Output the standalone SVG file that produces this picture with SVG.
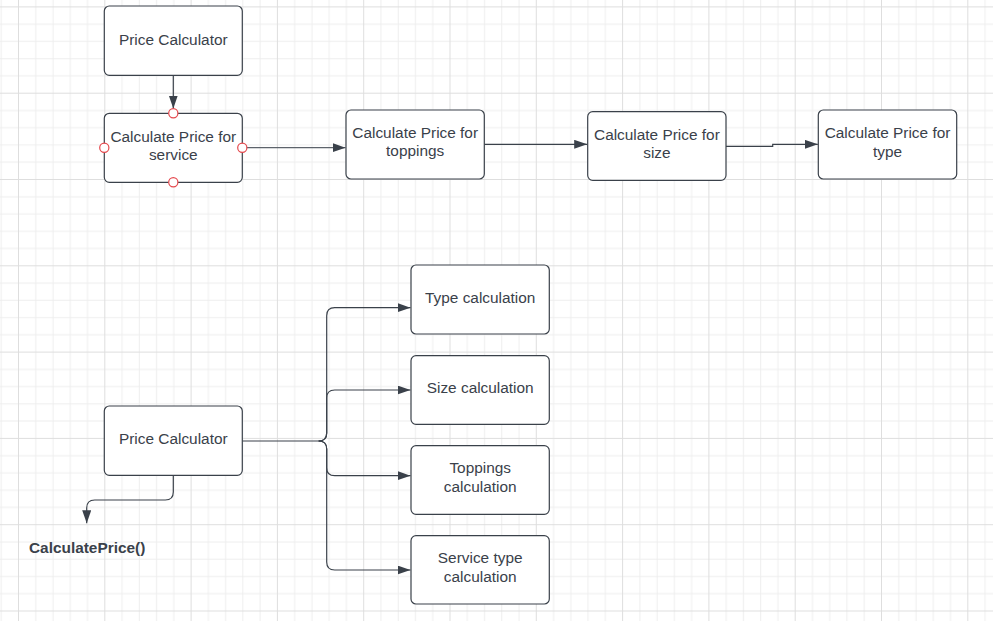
<svg xmlns="http://www.w3.org/2000/svg" width="993" height="621" viewBox="0 0 993 621">
<style>
.box{fill:#ffffff;stroke:#3a414a;stroke-width:1.2}
.t{font-family:"Liberation Sans",Arial,sans-serif;font-size:15.4px;fill:#3a414a;text-anchor:middle}
.b{font-weight:bold;text-anchor:start}
.c{fill:none;stroke:#3a414a;stroke-width:1.2}
.cl{fill:none;stroke:#5d636b;stroke-width:1.2}
.pt{fill:#ffffff;stroke:#e5484d;stroke-width:1.2}
.mn{stroke:#eeeeee;stroke-width:1}
.mj{stroke:#dedede;stroke-width:1}
</style>
<defs>
<pattern id="grid" patternUnits="userSpaceOnUse" x="18" y="6.4" width="86.3" height="86.3">
<path class="mn" d="M17.76,0V86.3M35.02,0V86.3M52.28,0V86.3M69.54,0V86.3M0,17.76H86.3M0,35.02H86.3M0,52.28H86.3M0,69.54H86.3"/>
<path class="mj" d="M0.5,0V86.3M0,0.5H86.3"/>
</pattern>
<marker id="ah" markerUnits="userSpaceOnUse" markerWidth="14" markerHeight="10" refX="13" refY="4.5" orient="auto">
<path d="M0,0L13,4.5L0,9z" fill="#3a414a"/>
</marker>
</defs>
<rect width="993" height="621" fill="#ffffff"/>
<rect width="993" height="621" fill="url(#grid)"/>
<g id="connectors">
<path class="c" d="M173.3,75.3V108.5" marker-end="url(#ah)"/>
<path class="cl" d="M242.3,147.7H345.5" marker-end="url(#ah)"/>
<path class="c" d="M484.3,144.3H587.2" marker-end="url(#ah)"/>
<path class="c" d="M726,146.3H772.7V144.3H817.8" marker-end="url(#ah)"/>
<path class="c" d="M242.3,441H318.7Q326.7,441 326.7,433V315.7Q326.7,307.7 334.7,307.7H410.5" marker-end="url(#ah)"/>
<path class="c" d="M318.7,441Q326.7,441 326.7,433V398Q326.7,390 334.7,390H410.5" marker-end="url(#ah)"/>
<path class="c" d="M318.7,441Q326.7,441 326.7,449V467.7Q326.7,475.7 334.7,475.7H410.5" marker-end="url(#ah)"/>
<path class="c" d="M318.7,441Q326.7,441 326.7,449V562Q326.7,570 334.7,570H410.5" marker-end="url(#ah)"/>
<path class="c" d="M173.3,475.3V492Q173.3,500 165.3,500H94.7Q86.7,500 86.7,508V523.3" marker-end="url(#ah)"/>
</g>
<g id="n1"><rect class="box" x="104.3" y="6" width="138" height="69.3" rx="5"/><text class="t" x="173.3" y="44.5">Price Calculator</text></g>
<g id="n2"><rect class="box" x="104.3" y="113.3" width="138" height="69" rx="5"/><text class="t" x="173.3" y="141.7">Calculate Price for</text><text class="t" x="173.3" y="160">service</text>
<circle class="pt" cx="173.3" cy="113.3" r="4.6"/><circle class="pt" cx="104.3" cy="147.8" r="4.6"/><circle class="pt" cx="242.3" cy="147.8" r="4.6"/><circle class="pt" cx="173.3" cy="182.3" r="4.6"/></g>
<g id="n3"><rect class="box" x="346" y="110" width="138.3" height="69" rx="5"/><text class="t" x="415.2" y="137.7">Calculate Price for</text><text class="t" x="415.2" y="156">toppings</text></g>
<g id="n4"><rect class="box" x="587.7" y="111.7" width="138.3" height="68.6" rx="5"/><text class="t" x="656.9" y="140">Calculate Price for</text><text class="t" x="656.9" y="158.3">size</text></g>
<g id="n5"><rect class="box" x="818.3" y="110" width="138.4" height="69" rx="5"/><text class="t" x="887.5" y="138.3">Calculate Price for</text><text class="t" x="887.5" y="156.6">type</text></g>
<g id="n6"><rect class="box" x="104.3" y="406" width="138" height="69.3" rx="5"/><text class="t" x="173.3" y="444.3">Price Calculator</text></g>
<g id="n7"><rect class="box" x="411" y="265" width="138.3" height="69" rx="5"/><text class="t" x="480.2" y="302.8">Type calculation</text></g>
<g id="n8"><rect class="box" x="411" y="355.7" width="138.3" height="68.6" rx="5"/><text class="t" x="480.2" y="393.4">Size calculation</text></g>
<g id="n9"><rect class="box" x="411" y="445.7" width="138.3" height="68.6" rx="5"/><text class="t" x="480.2" y="473.4">Toppings</text><text class="t" x="480.2" y="491.7">calculation</text></g>
<g id="n10"><rect class="box" x="411" y="535.7" width="138.3" height="68.3" rx="5"/><text class="t" x="480.2" y="563.4">Service type</text><text class="t" x="480.2" y="581.7">calculation</text></g>
<g id="n11"><text class="t b" x="29" y="553.3">CalculatePrice()</text></g>
</svg>
